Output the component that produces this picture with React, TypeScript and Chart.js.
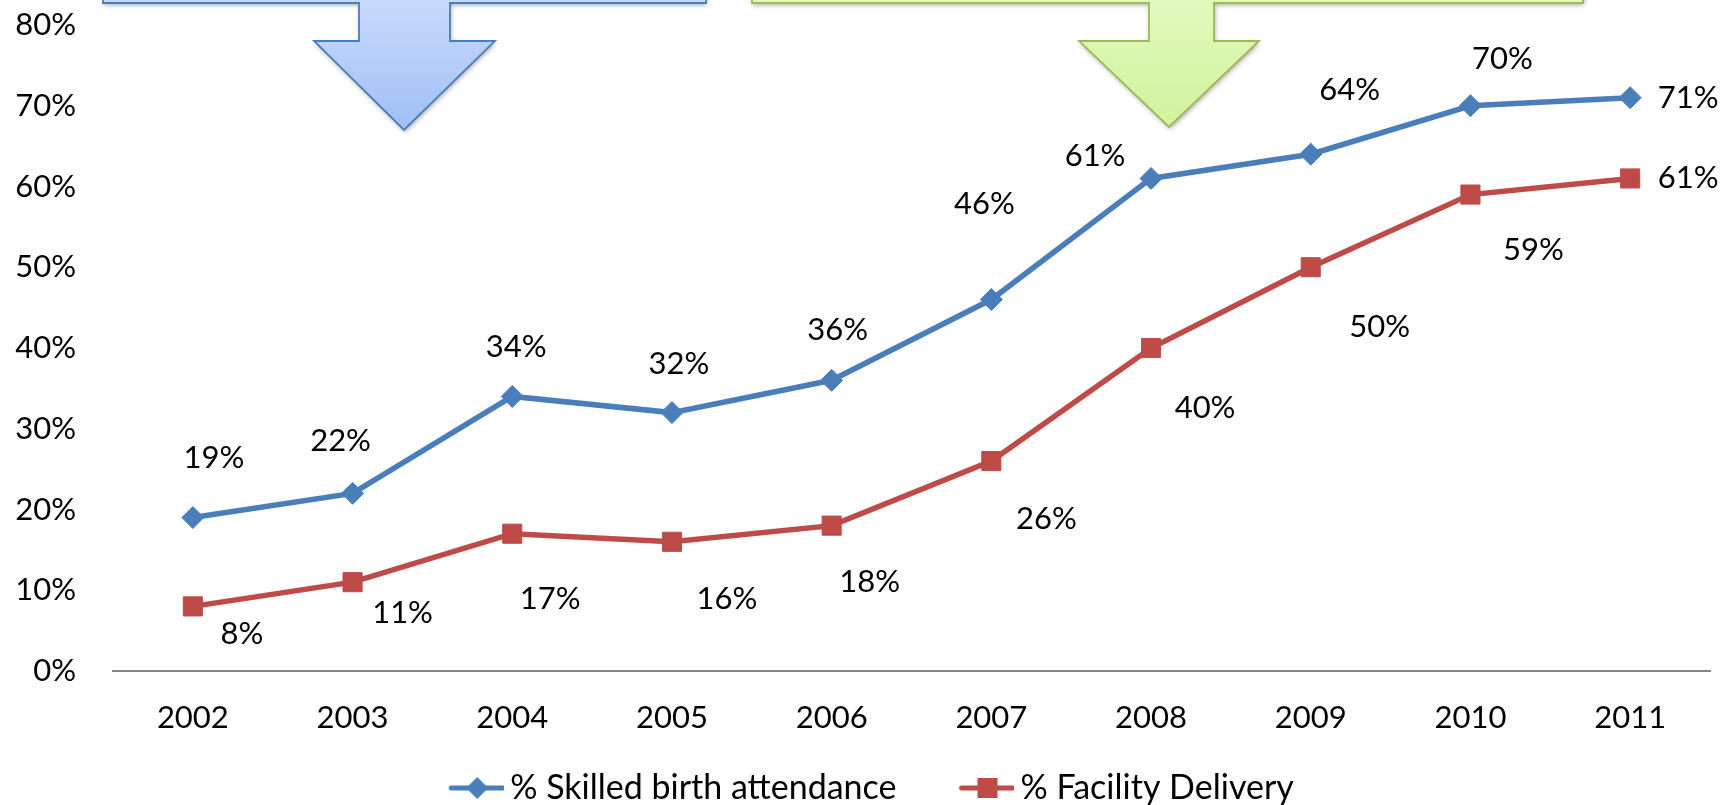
import React, { useEffect, useRef } from 'react';
import { Chart, registerables } from 'chart.js';

Chart.register(...registerables);

const years = ['2002', '2003', '2004', '2005', '2006', '2007', '2008', '2009', '2010', '2011'];
const skilledBirthAttendance = [19, 22, 34, 32, 36, 46, 61, 64, 70, 71];
const facilityDelivery = [8, 11, 17, 16, 18, 26, 40, 50, 59, 61];
const yTickValues = [0, 10, 20, 30, 40, 50, 60, 70, 80];
const seriesNames = ['% Skilled birth attendance', '% Facility Delivery'];

// label placement (pixel offsets from each point), as manually placed in the original
const skilledLabelOffsets = [
  [21, -60], [-12, -52], [4, -49], [7, -49], [6, -50],
  [-7, -96], [-56, -22], [39, -64], [32, -47], [58, 0],
];
const facilityLabelOffsets = [
  [49, 28], [50, 31], [38, 65], [55, 57], [38, 56],
  [55, 58], [54, 60], [69, 60], [63, 55], [58, 0],
];

const BLUE = '#4a7ebb';
const RED = '#be4b48';
const FONT = "Lato, 'Open Sans', sans-serif";
const FONT_SIZE = 31;
const LEGEND_FONT_SIZE = 34;

function makeLegendIcon(color: string, style: 'diamond' | 'square') {
  const c = document.createElement('canvas');
  c.width = 99;
  c.height = 30;
  const ctx = c.getContext('2d')!;
  const x0 = 46;
  const x1 = 98;
  const cx = (x0 + x1) / 2;
  ctx.strokeStyle = color;
  ctx.lineWidth = 5;
  ctx.lineCap = 'round';
  ctx.beginPath();
  ctx.moveTo(x0, 15);
  ctx.lineTo(x1, 15);
  ctx.stroke();
  ctx.fillStyle = color;
  ctx.beginPath();
  if (style === 'diamond') {
    ctx.moveTo(cx, 4);
    ctx.lineTo(cx + 11, 15);
    ctx.lineTo(cx, 26);
    ctx.lineTo(cx - 11, 15);
  } else {
    ctx.rect(cx - 10, 5, 20, 20);
  }
  ctx.closePath();
  ctx.fill();
  return c;
}

const dataLabelPlugin = {
  id: 'manualDataLabels',
  afterDatasetsDraw(chart: any) {
    const ctx = chart.ctx;
    const offsetsList = [skilledLabelOffsets, facilityLabelOffsets];
    ctx.save();
    ctx.font = `${FONT_SIZE}px ${FONT}`;
    ctx.fillStyle = '#000';
    ctx.textAlign = 'center';
    ctx.textBaseline = 'middle';
    chart.data.datasets.forEach((ds: any, di: number) => {
      const meta = chart.getDatasetMeta(di);
      meta.data.forEach((el: any, i: number) => {
        const [dx, dy] = offsetsList[di][i];
        ctx.fillText(`${ds.data[i]}%`, el.x + dx, el.y + dy);
      });
    });
    ctx.restore();
  },
};

type Callout = {
  left: number; right: number; bottom: number;
  stemL: number; stemR: number; headTop: number;
  headL: number; headR: number; tipX: number; tipY: number;
  fillTop: string; fillBottom: string; stroke: string;
};

const callouts: Callout[] = [
  {
    left: 103, right: 706, bottom: 3, stemL: 359, stemR: 450, headTop: 41,
    headL: 314, headR: 495, tipX: 404, tipY: 130,
    fillTop: '#c8dafc', fillBottom: '#a0bff4', stroke: '#4a7ebb',
  },
  {
    left: 752, right: 1583, bottom: 3, stemL: 1149, stemR: 1214, headTop: 41,
    headL: 1079, headR: 1259, tipX: 1169, tipY: 127,
    fillTop: '#e2f9bd', fillBottom: '#d2f29c', stroke: '#9bbb59',
  },
];

const calloutPlugin = {
  id: 'callouts',
  afterDraw(chart: any) {
    const ctx = chart.ctx;
    callouts.forEach((c) => {
      ctx.save();
      ctx.beginPath();
      ctx.moveTo(c.left, -20);
      ctx.lineTo(c.right, -20);
      ctx.lineTo(c.right, c.bottom);
      ctx.lineTo(c.stemR, c.bottom);
      ctx.lineTo(c.stemR, c.headTop);
      ctx.lineTo(c.headR, c.headTop);
      ctx.lineTo(c.tipX, c.tipY);
      ctx.lineTo(c.headL, c.headTop);
      ctx.lineTo(c.stemL, c.headTop);
      ctx.lineTo(c.stemL, c.bottom);
      ctx.lineTo(c.left, c.bottom);
      ctx.closePath();
      const g = ctx.createLinearGradient(0, 0, 0, c.tipY);
      g.addColorStop(0, c.fillTop);
      g.addColorStop(1, c.fillBottom);
      ctx.fillStyle = g;
      ctx.shadowColor = 'rgba(0,0,0,0.35)';
      ctx.shadowBlur = 5;
      ctx.shadowOffsetX = 1;
      ctx.shadowOffsetY = 2;
      ctx.fill();
      ctx.shadowColor = 'transparent';
      ctx.lineWidth = 1.8;
      ctx.strokeStyle = c.stroke;
      ctx.lineJoin = 'miter';
      ctx.stroke();
      ctx.restore();
    });
  },
};

export default function App() {
  const canvasRef = useRef<HTMLCanvasElement | null>(null);

  useEffect(() => {
    document.body.style.margin = '0';
    document.body.style.overflow = 'hidden';
    const icons = [makeLegendIcon(BLUE, 'diamond'), makeLegendIcon(RED, 'square')];
    const chart = new Chart(canvasRef.current!, {
      type: 'line',
      data: {
        labels: years,
        datasets: [
          {
            label: seriesNames[0],
            data: skilledBirthAttendance,
            borderColor: BLUE,
            backgroundColor: BLUE,
            borderWidth: 5.5,
            pointStyle: 'rectRot',
            pointRadius: 11,
            pointBorderWidth: 1,
            pointBackgroundColor: BLUE,
            pointBorderColor: BLUE,
            tension: 0,
          },
          {
            label: seriesNames[1],
            data: facilityDelivery,
            borderColor: RED,
            backgroundColor: RED,
            borderWidth: 5.5,
            pointStyle: 'rect',
            pointRadius: 13.5,
            pointBorderWidth: 1,
            pointBackgroundColor: RED,
            pointBorderColor: RED,
            tension: 0,
          },
        ],
      },
      options: {
        animation: false,
        responsive: true,
        maintainAspectRatio: false,
        layout: { padding: { top: 25, right: 26, left: 0, bottom: 0 } },
        plugins: {
          tooltip: { enabled: false },
          legend: {
            position: 'bottom',
            labels: {
              usePointStyle: true,
              pointStyleWidth: 77,
              padding: 30,
              color: '#000',
              font: { family: FONT, size: LEGEND_FONT_SIZE },
              generateLabels: (ch: any) =>
                ch.data.datasets.map((ds: any, i: number) => ({
                  text: ds.label,
                  pointStyle: icons[i],
                  fillStyle: ds.borderColor,
                  strokeStyle: ds.borderColor,
                  lineWidth: 0,
                  hidden: false,
                  datasetIndex: i,
                  fontColor: '#000',
                })),
            },
          },
        },
        scales: {
          x: {
            offset: true,
            grid: { display: false, drawTicks: false },
            border: { display: true, color: '#868686', width: 2 },
            ticks: {
              color: '#000',
              padding: 28,
              maxRotation: 0,
              autoSkip: false,
              font: { family: FONT, size: FONT_SIZE },
            },
            afterFit: (s: any) => {
              s.height = 70;
              s.paddingLeft = 0;
              s.paddingRight = 0;
            },
          },
          y: {
            min: 0,
            max: 80,
            grid: { display: false, drawTicks: false },
            border: { display: false },
            afterBuildTicks: (s: any) => { s.ticks = yTickValues.map((v) => ({ value: v })); },
            ticks: {
              color: '#000',
              padding: 37,
              font: { family: FONT, size: FONT_SIZE },
              callback: (v: any) => `${v}%`,
            },
            afterFit: (s: any) => {
              s.width = 113;
              s.paddingTop = 0;
              s.paddingBottom = 0;
            },
          },
        },
      },
      plugins: [dataLabelPlugin, calloutPlugin],
    });
    return () => chart.destroy();
  }, []);

  return (
    <div style={{ position: 'fixed', left: 0, top: 0, width: 1736, height: 805, overflow: 'hidden', background: '#fff' }}>
      <div style={{ position: 'relative', width: 1736, height: 815 }}>
        <canvas ref={canvasRef} />
      </div>
    </div>
  );
}
